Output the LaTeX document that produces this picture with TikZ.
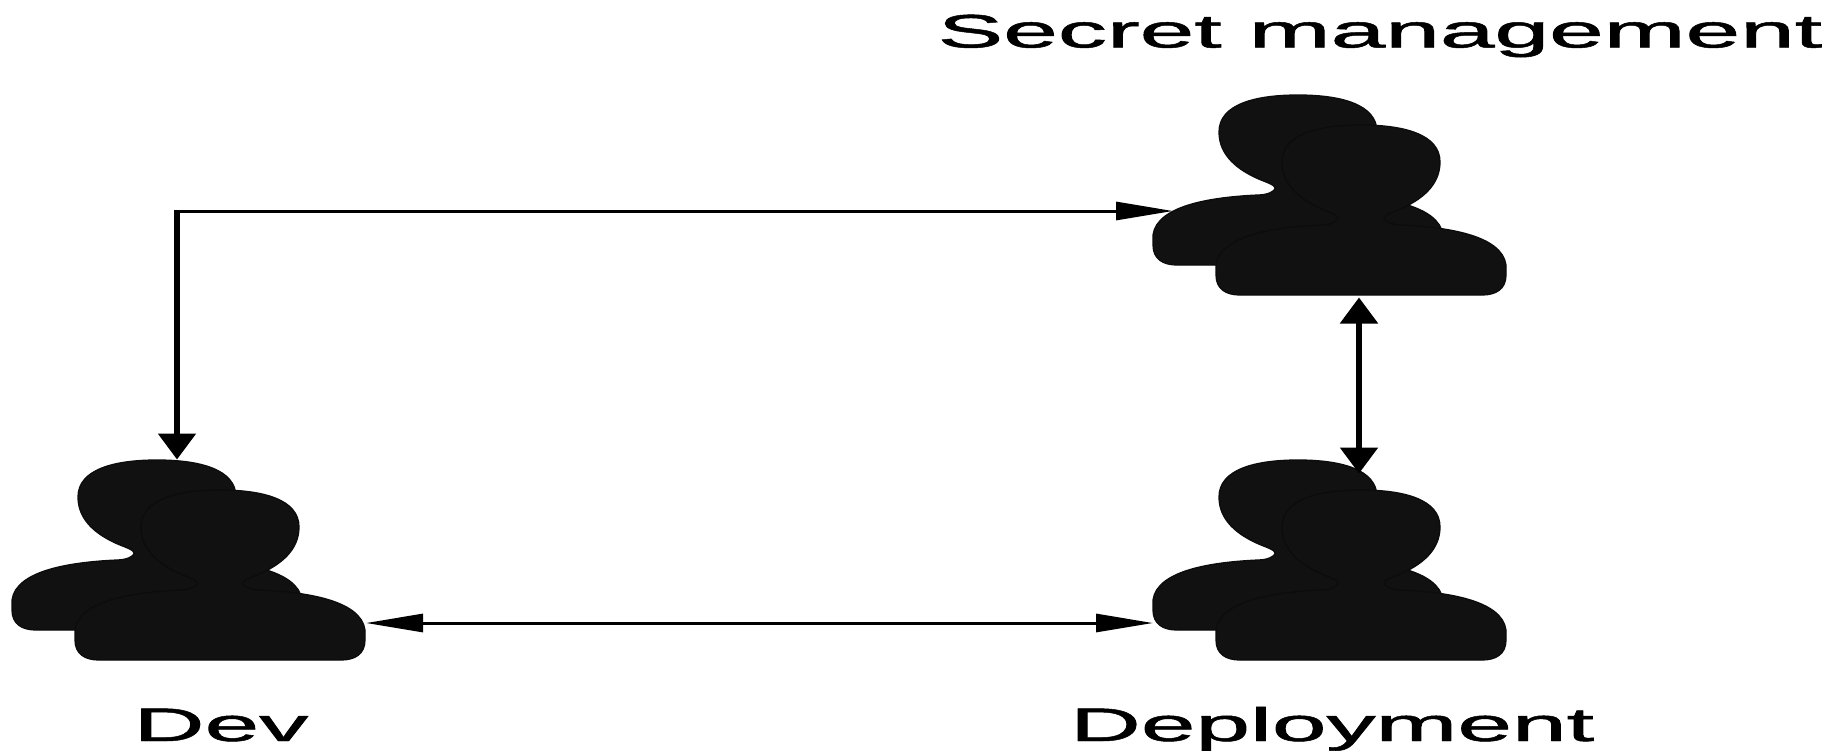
\documentclass[tikz,border=0pt]{standalone}
\usepackage{fontspec}
\setmainfont{Liberation Sans}
\newfontfamily\capfont[FakeBold=1]{Liberation Sans}
\usetikzlibrary{arrows.meta}
\definecolor{iconfill}{HTML}{111111}
\definecolor{iconedge}{HTML}{0C0C0C}
\tikzset{
  personshape/.style={fill=iconfill,draw=iconedge,line width=1.3pt},
  pics/personicon/.style={code={
    \path[personshape]
      (145,0) .. controls (103,0) and (66,9) .. (66,37)
      .. controls (66,60) and (84,75) .. (108,85)
      .. controls (121,90) and (125,92) .. (120,96)
      .. controls (116,99) and (110,100) .. (105,100)
      .. controls (60,102) and (4,110) .. (0,140)
      -- (0,150) .. controls (0,164) and (10,170) .. (24,170)
      -- (266,170) .. controls (280,170) and (290,164) .. (290,150)
      -- (290,140) .. controls (286,110) and (230,102) .. (185,100)
      .. controls (180,100) and (174,99) .. (170,96)
      .. controls (165,92) and (169,90) .. (182,85)
      .. controls (206,75) and (224,60) .. (224,37)
      .. controls (224,9) and (187,0) .. (145,0) -- cycle;
  }},
  pics/usersicon/.style={code={
    \pic at (0,0) {personicon};
    \pic at (63,30) {personicon};
  }},
  iconbox/.style={minimum width=354pt,minimum height=201pt,inner sep=0pt,outer sep=0pt},
  caption/.style={font=\capfont\fontsize{47pt}{47pt}\selectfont,text=black,inner sep=0pt,anchor=base,xscale=2.09,transform shape},
  hconn/.style={draw=black,line width=3pt,{Triangle[length=57pt,width=18pt]}-{Triangle[length=57pt,width=18pt]}},
  hconnone/.style={draw=black,line width=3pt,-{Triangle[length=57pt,width=18pt]}},
  vconn/.style={draw=black,line width=5.5pt,{Triangle[length=26pt,width=37pt]}-{Triangle[length=26pt,width=37pt]}},
  vconnone/.style={draw=black,line width=5.5pt,line cap=rect,-{Triangle[length=26pt,width=37pt]}},
}
\begin{document}
\begin{tikzpicture}[x=1pt,y=-1pt]
\useasboundingbox (0,0) rectangle (1837,753);
% icons
\pic at (12,460) {usersicon};
\pic at (1153,460) {usersicon};
\pic at (1153,95) {usersicon};
% anchor boxes
\node[iconbox] (dev) at (189,560) {};
\node[iconbox] (deployment) at (1330,560) {};
\node[iconbox] (secret) at (1330,196) {};
% ports
\coordinate (corner) at (177,211);
\coordinate (devtop) at (corner |- dev.north);
\coordinate (secleft) at (secret.west |- corner);
\coordinate (devright) at ([yshift=-63pt]dev.east);
\coordinate (depleft) at ([yshift=-63pt]deployment.west);
\coordinate (sectop) at ([xshift=29pt,yshift=-1pt]secret.south);
\coordinate (deptop) at ([xshift=29pt,yshift=-14pt]deployment.north);
% connectors
\draw[vconnone] ([yshift=-1.25pt]corner) -- (devtop);
\draw[hconnone] ([xshift=-3pt]corner) -- ([xshift=20pt]secleft);
\draw[vconn] (sectop) -- (deptop);
\draw[hconn] (devright) -- (depleft);
% captions
\node[caption] (cs) at (1380,47.5) {Secret management};
\node[caption] (cd) at (221,741) {Dev};
\node[caption] (cp) at (1332,741) {Deployment};
\end{tikzpicture}
\end{document}
